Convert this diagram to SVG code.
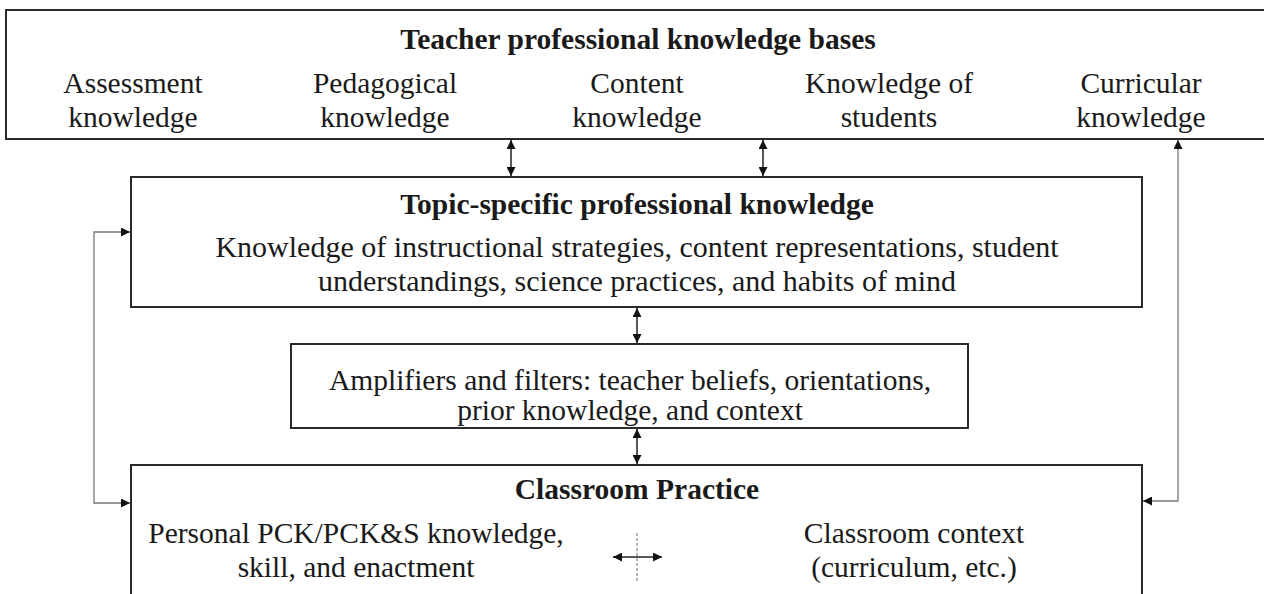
<svg xmlns="http://www.w3.org/2000/svg" width="1264" height="594" viewBox="0 0 1264 594">
<style>
text{font-family:"Liberation Serif","Times New Roman",serif;font-size:29.5px;fill:#1a1a1a;text-anchor:middle}
.b{font-weight:bold}
.big{font-size:30px}
.box{fill:#fff;stroke:#2a2a2a;stroke-width:2}
.arr{fill:none;stroke:#222;stroke-width:1.5}
.fb{fill:none;stroke:#777;stroke-width:1.3}
.dash{fill:none;stroke:#666;stroke-width:1;stroke-dasharray:3 2}
</style>
<defs>
<marker id="ah" viewBox="0 0 10 10" refX="10" refY="5" markerWidth="10" markerHeight="9" markerUnits="userSpaceOnUse" orient="auto-start-reverse"><path d="M0,0 L10,5 L0,10 z" fill="#111"/></marker>
</defs>
<rect width="1264" height="594" fill="#fff"/>
<g id="knowledge-bases">
<rect class="box" x="6" y="10" width="1270" height="129"/>
<text class="b" x="638" y="49">Teacher professional knowledge bases</text>
<text x="133" y="93">Assessment</text><text x="133" y="127">knowledge</text>
<text x="385" y="93">Pedagogical</text><text x="385" y="127">knowledge</text>
<text x="637" y="93">Content</text><text x="637" y="127">knowledge</text>
<text x="889" y="93">Knowledge of</text><text x="889" y="127">students</text>
<text x="1141" y="93">Curricular</text><text x="1141" y="127">knowledge</text>
</g>
<g id="topic-specific">
<rect class="box" x="131" y="177" width="1011" height="130"/>
<text class="b" x="637" y="214">Topic-specific professional knowledge</text>
<text class="big" x="637" y="257">Knowledge of instructional strategies, content representations, student</text>
<text class="big" x="637" y="291">understandings, science practices, and habits of mind</text>
</g>
<g id="amplifiers">
<rect class="box" x="291" y="344" width="677" height="84"/>
<text x="630" y="390">Amplifiers and filters: teacher beliefs, orientations,</text>
<text x="630" y="420">prior knowledge, and context</text>
</g>
<g id="classroom-practice">
<rect class="box" x="131" y="465" width="1011" height="140"/>
<text class="b" x="637" y="499">Classroom Practice</text>
<text x="356" y="543">Personal PCK/PCK&amp;S knowledge,</text>
<text x="356" y="577">skill, and enactment</text>
<text x="914" y="543">Classroom context</text>
<text x="914" y="577">(curriculum, etc.)</text>
</g>
<g id="connectors">
<path class="arr" d="M511,140 V176" marker-start="url(#ah)" marker-end="url(#ah)"/>
<path class="arr" d="M763,140 V176" marker-start="url(#ah)" marker-end="url(#ah)"/>
<path class="arr" d="M637,308 V343" marker-start="url(#ah)" marker-end="url(#ah)"/>
<path class="arr" d="M637,429 V464" marker-start="url(#ah)" marker-end="url(#ah)"/>
<path class="fb" d="M130,503 H94 V232 H130" marker-start="url(#ah)" marker-end="url(#ah)"/>
<path class="fb" d="M1143,501 H1178 V140" marker-start="url(#ah)" marker-end="url(#ah)"/>
<path class="dash" d="M637,533 V582"/>
<path class="arr" d="M613,557 H662" marker-start="url(#ah)" marker-end="url(#ah)"/>
</g>
</svg>
